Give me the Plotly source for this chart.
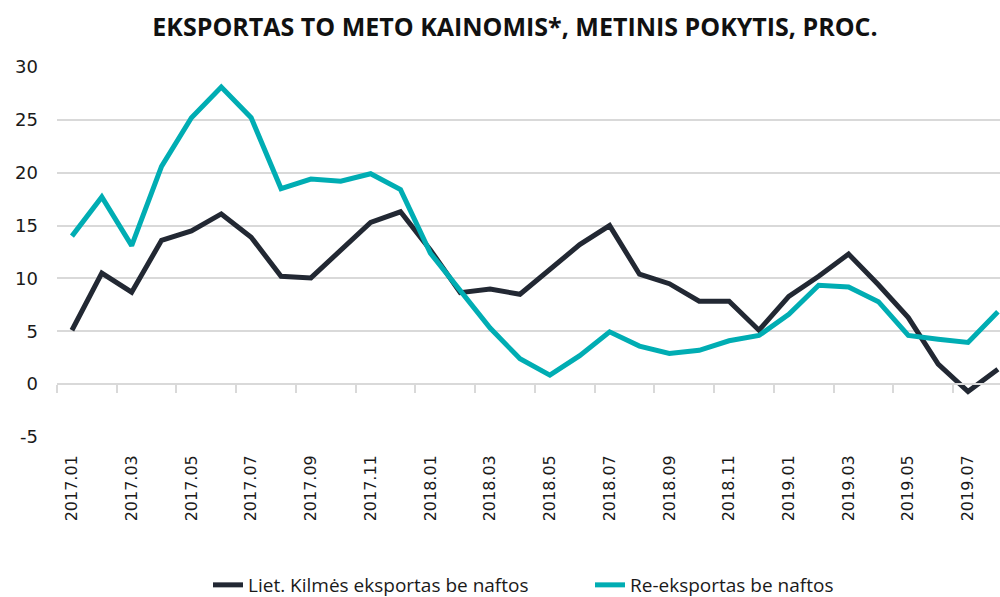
import plotly.graph_objects as go

months = ["2017.01", "2017.02", "2017.03", "2017.04", "2017.05", "2017.06", "2017.07", "2017.08",
          "2017.09", "2017.10", "2017.11", "2017.12", "2018.01", "2018.02", "2018.03", "2018.04",
          "2018.05", "2018.06", "2018.07", "2018.08", "2018.09", "2018.10", "2018.11", "2018.12",
          "2019.01", "2019.02", "2019.03", "2019.04", "2019.05", "2019.06", "2019.07", "2019.08"]

liet_kilmes = [5.1, 10.5, 8.7, 13.6, 14.5, 16.1, 13.9, 10.2,
               10.05, 12.7, 15.3, 16.3, 12.7, 8.65, 9.0, 8.5,
               10.9, 13.2, 15.0, 10.4, 9.5, 7.85, 7.85, 5.1,
               8.3, 10.2, 12.3, 9.4, 6.3, 1.9, -0.7, 1.4]

re_eksportas = [14.0, 17.7, 13.1, 20.6, 25.2, 28.1, 25.2, 18.5,
                19.4, 19.2, 19.9, 18.4, 12.4, 8.8, 5.3, 2.4,
                0.85, 2.7, 4.95, 3.6, 2.9, 3.2, 4.1, 4.6,
                6.6, 9.35, 9.2, 7.8, 4.6, 4.25, 3.95, 6.85]

series_names = ["Liet. Kilmės eksportas be naftos", "Re-eksportas be naftos"]
series_colors = ["#222833", "#00adb3"]
y_ticks = [-5, 0, 5, 10, 15, 20, 25, 30]
y_tick_text = ["-5", "0", "5", "10", "15", "20", "25", "30"]

idx = list(range(len(months)))
label_idx = idx[::2]
label_txt = months[::2]
boundaries = [i - 0.5 for i in idx[::2]]

x_range = [-0.5, 31.07]

fig = go.Figure()
for name, vals, col in zip(series_names, [liet_kilmes, re_eksportas], series_colors):
    fig.add_trace(go.Scatter(x=idx, y=vals, mode="lines", name=name,
                             line=dict(color=col, width=5)))

# invisible trace to hold the tick-mark axis at the zero line
fig.add_trace(go.Scatter(x=[idx[0]], y=[0], mode="lines", xaxis="x2", showlegend=False,
                         hoverinfo="skip", line=dict(width=0), opacity=0))

grid = "#d9d9d9"
fig.update_layout(
    width=1000, height=597,
    paper_bgcolor="white", plot_bgcolor="white",
    margin=dict(l=57, r=0, t=67, b=160, autoexpand=False),
    title=dict(text="<b>EKSPORTAS TO METO KAINOMIS*, METINIS POKYTIS, PROC.</b>",
               x=0.515, xanchor="center", y=1 - 27 / 597, yanchor="middle",
               font=dict(family="Open Sans", size=25, color="#111111")),
    xaxis=dict(range=x_range, tickmode="array", tickvals=label_idx, ticktext=label_txt,
               tickangle=-90, showgrid=False, zeroline=False, showline=False, ticks="",
               ticklabelstandoff=14, automargin=False,
               tickfont=dict(family="DejaVu Sans", size=16, color="#1a1a1a")),
    xaxis2=dict(range=x_range, overlaying="x", anchor="free", position=5 / 35, side="bottom",
                tickmode="array", tickvals=boundaries, ticks="outside", ticklen=8,
                tickwidth=2, tickcolor=grid, showticklabels=False, showgrid=False,
                zeroline=False, showline=True, linecolor=grid, linewidth=2, automargin=False),
    yaxis=dict(range=[-5, 30], tickmode="array", tickvals=y_ticks, ticktext=y_tick_text,
               showgrid=True, gridcolor=grid, gridwidth=1.5, zeroline=False, ticks="",
               ticklabelstandoff=18, automargin=False,
               tickfont=dict(family="DejaVu Sans", size=18, color="#1a1a1a")),
    legend=dict(orientation="h", x=(208 - 57) / 943, xanchor="left", y=-0.4, yanchor="middle",
                entrywidth=337, entrywidthmode="pixels",
                font=dict(family="Open Sans", size=19, color="#1a1a1a"),
                bgcolor="rgba(0,0,0,0)"),
    showlegend=True,
)

fig.write_html("out.html", config={"displayModeBar": False},
               post_script="document.body.style.margin='0';document.body.style.overflow='hidden';")
